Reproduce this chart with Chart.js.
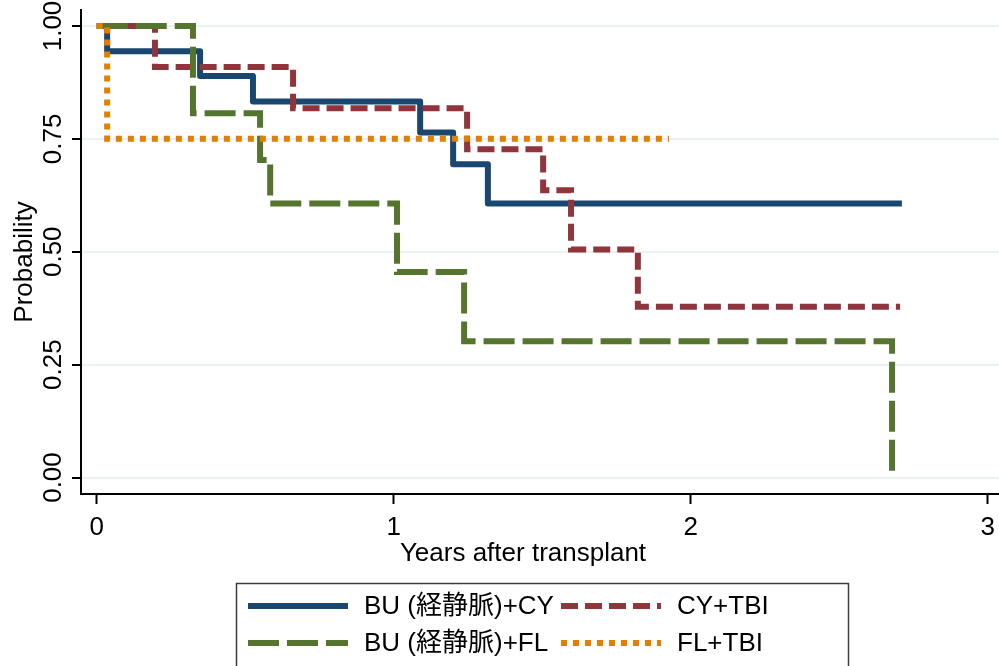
<!DOCTYPE html>
<html>
<head>
<meta charset="utf-8">
<script src="https://cdn.jsdelivr.net/npm/chart.js@4/dist/chart.umd.min.js"></script>
<style>
  html, body { margin: 0; padding: 0; background: #fff; }
  #wrap { width: 999px; height: 666px; position: relative; }
</style>
</head>
<body>
<div id="wrap"><canvas id="km"></canvas></div>
<script>
// tick values / labels
const xTicks = [0, 1, 2, 3];
const yTicks = [0, 0.25, 0.5, 0.75, 1];
const yTickLabels = ['0.00', '0.25', '0.50', '0.75', '1.00'];
const xTitle = 'Years after transplant';
const yTitle = 'Probability';

// groups (legend order)
const groups = ['BU (経静脈)+CY', 'CY+TBI', 'BU (経静脈)+FL', 'FL+TBI'];

// Kaplan-Meier steps: time (years) and survival after each drop
const buCyTime = [0, 0.035, 0.348, 0.526, 1.089, 1.200, 1.317, 2.711];
const buCySurv = [1, 0.944, 0.889, 0.833, 0.764, 0.694, 0.607, 0.607];

const cyTbiTime = [0, 0.196, 0.661, 1.247, 1.503, 1.597, 1.822, 2.705];
const cyTbiSurv = [1, 0.909, 0.818, 0.727, 0.636, 0.505, 0.378, 0.378];

const buFlTime = [0, 0.324, 0.550, 0.584, 1.011, 1.237, 2.678];
const buFlSurv = [1, 0.807, 0.703, 0.607, 0.455, 0.302, 0];

const flTbiTime = [0, 0.035, 1.927];
const flTbiSurv = [1, 0.75, 0.75];

const FONT = "'Liberation Sans', Arial, 'Noto Sans CJK JP', sans-serif";

function pts(t, s) {
    return t.map((v, i) => ({ x: v, y: s[i] }));
}

// Stata s2color palette
const styles = [
    { color: '#1a476f', dash: [] },
    { color: '#90353b', dash: [17, 7] },
    { color: '#55752f', dash: [31, 8] },
    { color: '#e37e00', dash: [6, 6] }
];
const series = [
    pts(buCyTime, buCySurv),
    pts(cyTbiTime, cyTbiSurv),
    pts(buFlTime, buFlSurv),
    pts(flTbiTime, flTbiSurv)
];

const datasets = series.map((d, i) => ({
    label: groups[i],
    data: d,
    borderColor: styles[i].color,
    borderDash: styles[i].dash,
    borderWidth: 6,
    borderCapStyle: 'butt',
    borderJoinStyle: i === 0 ? 'round' : 'miter',
    stepped: true,
    pointRadius: 0,
    fill: false,
    order: 4 - i  // later groups drawn on top, like Stata
}));

// axis texts + boxed legend drawn on the canvas
const decorations = {
    id: 'decorations',
    afterDraw(chart) {
        const ctx = chart.ctx;
        const xs = chart.scales.x, ys = chart.scales.y;
        ctx.save();
        ctx.fillStyle = '#000';

        // y tick labels (rotated)
        ctx.font = '26px ' + FONT;
        ctx.textAlign = 'center';
        ctx.textBaseline = 'alphabetic';
        yTicks.forEach((v, i) => {
            ctx.save();
            ctx.translate(61, ys.getPixelForValue(v));
            ctx.rotate(-Math.PI / 2);
            ctx.fillText(yTickLabels[i], 0, 0);
            ctx.restore();
        });

        // x tick labels
        xTicks.forEach(v => {
            ctx.fillText(String(v), xs.getPixelForValue(v), 535);
        });

        // axis titles
        ctx.font = '26px ' + FONT;
        ctx.fillText(xTitle, 523, 561);
        ctx.save();
        ctx.translate(32, 262);
        ctx.rotate(-Math.PI / 2);
        ctx.fillText(yTitle, 0, 0);
        ctx.restore();

        // legend box
        ctx.strokeStyle = '#3c3c3c';
        ctx.lineWidth = 1.5;
        ctx.strokeRect(236.5, 583.5, 612, 100);

        const cols = [248, 561];
        const rows = [606, 643];
        ctx.font = '26px ' + FONT;
        ctx.textAlign = 'left';
        ctx.textBaseline = 'middle';
        chart.data.datasets.forEach((ds, i) => {
            const cx = cols[i % 2], cy = rows[Math.floor(i / 2)];
            ctx.beginPath();
            ctx.setLineDash(ds.borderDash);
            ctx.lineCap = 'butt';
            ctx.strokeStyle = ds.borderColor;
            ctx.lineWidth = 6;
            ctx.moveTo(cx, cy);
            ctx.lineTo(cx + 100, cy);
            ctx.stroke();
            ctx.setLineDash([]);
            ctx.fillStyle = '#000';
            ctx.fillText(ds.label, cx + 116, cy + 1);
        });
        ctx.restore();
    }
};

new Chart(document.getElementById('km'), {
    type: 'line',
    data: { datasets: datasets },
    options: {
        responsive: true,
        maintainAspectRatio: false,
        animation: false,
        layout: { padding: { left: 72, right: 0, top: 10, bottom: 162 } },
        plugins: {
            legend: { display: false },
            tooltip: { enabled: false }
        },
        scales: {
            x: {
                type: 'linear',
                min: -0.053,
                max: 3.038,
                afterBuildTicks: s => { s.ticks = xTicks.map(v => ({ value: v })); },
                ticks: { display: false },
                grid: {
                    drawOnChartArea: false,
                    drawTicks: true,
                    tickLength: 10,
                    tickColor: '#000',
                    tickWidth: 2
                },
                border: { display: true, color: '#000', width: 2 }
            },
            y: {
                type: 'linear',
                min: -0.0365,
                max: 1.0354,
                afterBuildTicks: s => { s.ticks = yTicks.map(v => ({ value: v })); },
                ticks: { display: false },
                grid: {
                    color: '#eaf2f3',
                    lineWidth: 2,
                    drawTicks: true,
                    tickLength: 9,
                    tickColor: '#000',
                    tickWidth: 2
                },
                border: { display: true, color: '#000', width: 2 }
            }
        }
    },
    plugins: [decorations]
});
</script>
</body>
</html>
